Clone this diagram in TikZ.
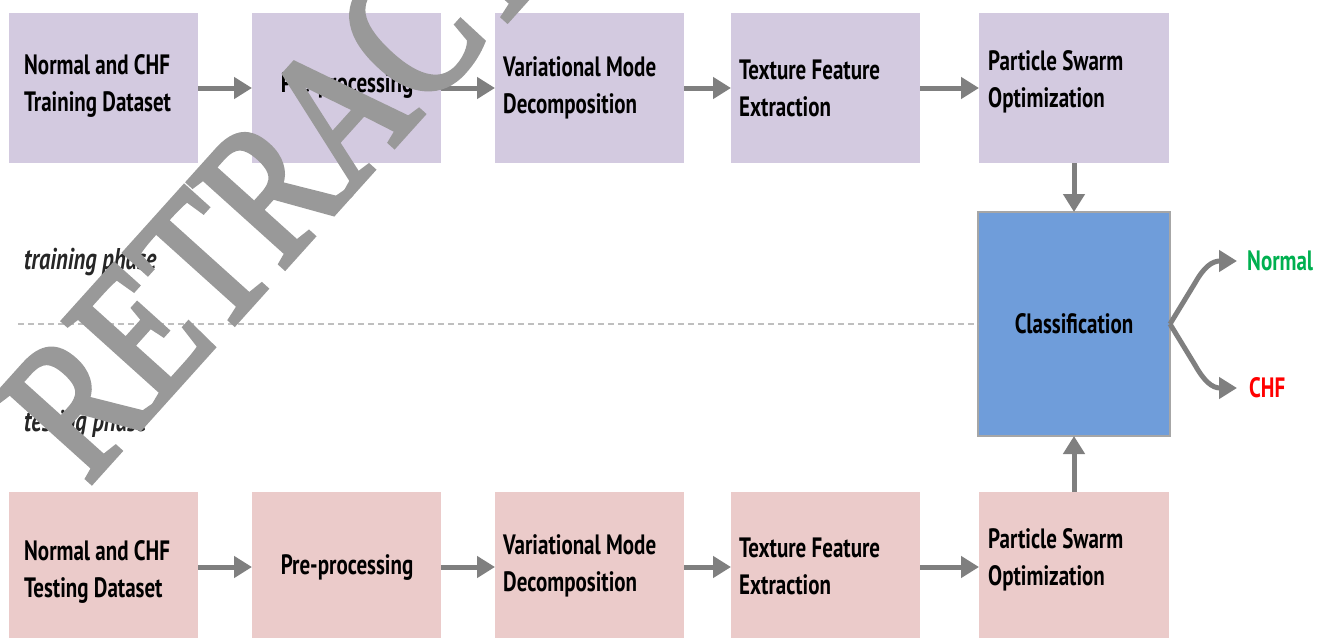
\documentclass[tikz,border=0pt]{standalone}
\usepackage{fontspec}
\setmainfont{PT Sans}[FakeStretch=0.75]
\newfontfamily\wmfont{Liberation Serif}[FakeStretch=0.78,FakeBold=2.8]
\usetikzlibrary{arrows.meta}
\definecolor{topfill}{HTML}{D3CAE0}
\definecolor{botfill}{HTML}{EBCBCA}
\definecolor{clsfill}{HTML}{6F9DDA}
\definecolor{clsborder}{HTML}{A6A6A6}
\definecolor{arrowgray}{HTML}{7F7F7F}
\definecolor{dashgray}{HTML}{BFBFBF}
\definecolor{wmgray}{HTML}{999999}
\definecolor{normalgreen}{HTML}{00B050}
\definecolor{chfred}{HTML}{FF0000}
\begin{document}
\begin{tikzpicture}[x=1pt,y=-1pt,
  box/.style={minimum width=189pt, minimum height=150pt, inner sep=0pt, outer sep=0pt, anchor=north west},
  topbox/.style={box, fill=topfill},
  botbox/.style={box, fill=botfill},
  lbl/.style={anchor=west, inner sep=0pt, align=left, font=\bfseries\fontsize{28}{37}\selectfont, text=black},
  clbl/.style={lbl, anchor=center},
  flow/.style={draw=arrowgray, line width=5pt, -{Triangle[length=18pt,width=21pt]}},
  phase/.style={anchor=west, inner sep=0pt, font=\bfseries\itshape\fontsize{30}{32}\selectfont, text=black!85},
  result/.style={anchor=west, inner sep=0pt, font=\bfseries\fontsize{28}{30}\selectfont}
]
\useasboundingbox (0,0) rectangle (1322,637);
\clip (0,0) rectangle (1322,637);

% top row
\node[topbox] (T1) at (9,13) {};
\node[topbox] (T2) at (252,13) {};
\node[topbox] (T3) at (495,13) {};
\node[topbox] (T4) at (731,13) {};
\node[topbox, minimum width=190pt] (T5) at (979,13) {};
% bottom row
\node[botbox] (B1) at (9,492) {};
\node[botbox] (B2) at (252,492) {};
\node[botbox] (B3) at (495,492) {};
\node[botbox] (B4) at (731,492) {};
\node[botbox, minimum width=190pt] (B5) at (979,492) {};

% texts
\node[lbl] (t1) at (24,86) {Normal and CHF\\Training Dataset};
\node[clbl] (t2) at (347,86) {Pre-processing};
\node[lbl] (t3) at (503,88) {Variational Mode\\Decomposition};
\node[lbl] (t4) at (739,88) {Texture Feature\\Extraction};
\node[lbl] (t5) at (988,82) {Particle Swarm\\Optimization};
\node[lbl] (b1) at (24,572) {Normal and CHF\\Testing Dataset};
\node[clbl] (b2) at (347,568) {Pre-processing};
\node[lbl] (b3) at (503,566) {Variational Mode\\Decomposition};
\node[lbl] (b4) at (739,566) {Texture Feature\\Extraction};
\node[lbl] (b5) at (988,560) {Particle Swarm\\Optimization};

% classification
\node[anchor=north west, minimum width=192pt, minimum height=224pt, inner sep=0pt, outer sep=0pt,
  fill=clsfill, draw=clsborder, line width=2.5pt, font=\bfseries\fontsize{28}{30}\selectfont] (cls) at (978,212) {Classification};

% dashed separator
\coordinate (dstart) at (18,324);
\draw[dashgray, line width=2pt, dash pattern=on 6pt off 4pt] (dstart) -- (cls.west);

% phase labels
\node[phase] (trp) at (24,262) {training phase};
\node[phase] (tsp) at (24,424) {testing phase};

% arrows
\draw[flow] (T1.east) -- (T2.west);
\draw[flow] (T2.east) -- (T3.west);
\draw[flow] (T3.east) -- (T4.west);
\draw[flow] (T4.east) -- (T5.west);
\draw[flow] (B1.east) -- (B2.west);
\draw[flow] (B2.east) -- (B3.west);
\draw[flow] (B3.east) -- (B4.west);
\draw[flow] (B4.east) -- (B5.west);
\draw[flow] (T5.south) -- (cls.north);
\draw[flow] (B5.north) -- (cls.south);

% results
\node[result, text=normalgreen] (nrm) at (1247,261) {Normal};
\node[result, text=chfred] (chf) at (1249,388) {CHF};
\draw[flow, line join=round] (cls.east) -- (1195,283) .. controls (1204,267) and (1212,261) .. ([xshift=-10pt]nrm.west);
\draw[flow, line join=round] (cls.east) -- (1195,365) .. controls (1204,381) and (1212,388) .. ([xshift=-12pt]chf.west);

% watermark
\node[anchor=base west, rotate=48, inner sep=0pt, text=wmgray, font=\wmfont\fontsize{196}{196}\selectfont] (wm) at (88,486) {RETRACTED};
\end{tikzpicture}
\end{document}
